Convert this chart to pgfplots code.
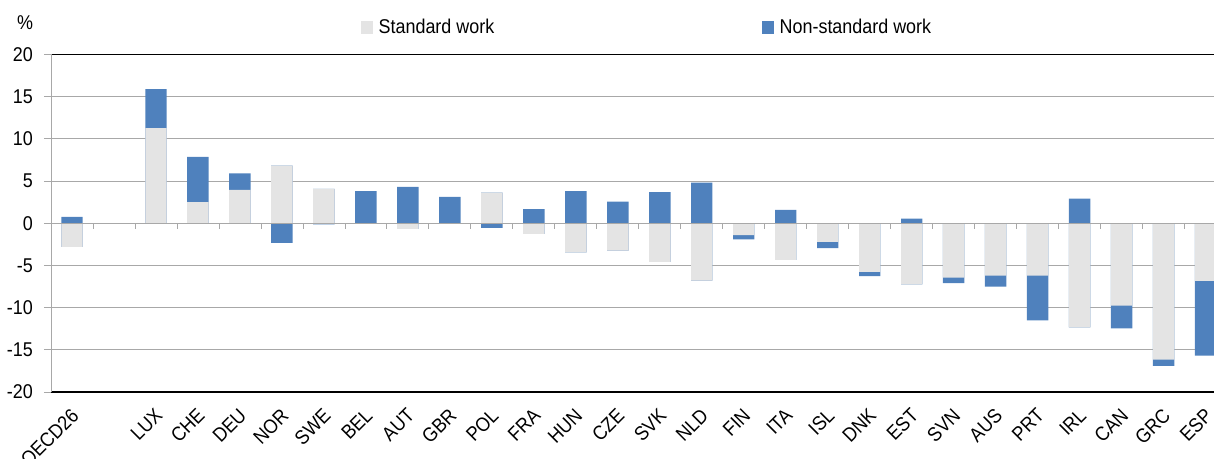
\documentclass[border=0pt]{standalone}
\usepackage{fontspec}
\setmainfont{Liberation Sans}[FakeStretch=0.9]
\usepackage{pgfplots}
\pgfplotsset{compat=1.18}
\usepackage{pgfplotstable}

\definecolor{stdgray}{HTML}{E4E4E4}
\definecolor{nsblue}{HTML}{4F81BD}
\definecolor{gridgray}{HTML}{A8A8A8}

% ends of the bars: gray/blue on the positive side, gray/blue on the negative side
\pgfplotstableread{
x  gp     bp     gn      bn
0  0      0.75   -2.8    -2.8
2  11.26  15.9   0       0
3  2.5    7.87   0       0
4  3.95   5.9    0       0
5  6.84   6.84   0       -2.33
6  4.07   4.07   0       -0.12
7  0      3.8    0       0
8  0      4.3    -0.67   -0.67
9  0      3.12   0       0
10 3.64   3.64   0       -0.55
11 0      1.66   -1.26   -1.26
12 0      3.8    -3.44   -3.44
13 0      2.57   -3.24   -3.24
14 0      3.68   -4.58   -4.58
15 0      4.82   -6.8    -6.8
16 0      0      -1.42   -1.9
17 0      1.58   -4.35   -4.35
18 0      0      -2.2    -2.96
19 0      0      -5.77   -6.28
20 0      0.55   -7.23   -7.23
21 0      0      -6.44   -7.11
22 0      0      -6.2    -7.5
23 0      0      -6.2    -11.5
24 0      2.92   -12.33  -12.33
25 0      0      -9.77   -12.45
26 0      0      -16.17  -16.9
27 0      0      -6.84   -15.7
}\bars

\begin{document}
\begin{tikzpicture}
\begin{axis}[
    scale only axis,
    width=1163bp, height=337.5bp,
    xmin=-0.5, xmax=27.2,
    ymin=-20, ymax=20,
    ytick={-20,-15,-10,-5,0,5,10,15,20},
    xtick={0,2,3,4,5,6,7,8,9,10,11,12,13,14,15,16,17,18,19,20,21,22,23,24,25,26,27},
    xticklabels={OECD26,LUX,CHE,DEU,NOR,SWE,BEL,AUT,GBR,POL,FRA,HUN,CZE,SVK,NLD,FIN,ITA,ISL,DNK,EST,SVN,AUS,PRT,IRL,CAN,GRC,ESP},
    ybar, bar width=0.51,
    axis line style={draw=none},
    ymajorgrids,
    grid style={gridgray, line width=0.8bp},
    ytick pos=left,
    tick align=outside,
    major tick length=7bp,
    xtick style={draw=none},
    ytick style={gridgray, line width=0.8bp},
    /pgf/number format/assume math mode=true,
    tick label style={font=\fontsize{20}{23}\selectfont},
    yticklabel style={inner sep=0pt, xshift=-11bp},
    xticklabel style={xshift=-2bp, yshift=-8bp, rotate=45, anchor=north east, inner sep=0pt},
    clip mode=individual,
    legend columns=2,
    legend style={draw=none, fill=none, inner sep=0pt, font=\fontsize{20}{23}\selectfont,
        at={(rel axis cs:0.2666,1)}, anchor=west, yshift=27.5bp,
        nodes={inner sep=0pt}},
    /tikz/every odd column/.append style={column sep=6bp},
    /tikz/every even column/.append style={column sep=268bp},
]
\addplot[fill=nsblue, draw=none, bar shift=0pt, forget plot] table[x=x, y=bp] {\bars};
\addplot[fill=nsblue, draw=none, bar shift=0pt, forget plot] table[x=x, y=bn] {\bars};
\addplot[fill=stdgray, draw=none, bar shift=0pt, forget plot] table[x=x, y=gp] {\bars};
\addplot[fill=stdgray, draw=none, bar shift=0pt, forget plot] table[x=x, y=gn] {\bars};

\addlegendimage{legend image code/.code={\fill[stdgray] (0bp,-6bp) rectangle (11bp,6bp);}}
\addlegendentry{Standard work}
\addlegendimage{legend image code/.code={\fill[nsblue] (0bp,-6bp) rectangle (11bp,6bp);}}
\addlegendentry{Non-standard work}

% frame, zero line and category ticks
\draw[black, line width=1.2bp] (rel axis cs:0,1) -- (rel axis cs:1,1);
\draw[black, line width=1.2bp] (rel axis cs:0,0) -- (rel axis cs:1,0);
\draw[gridgray, line width=1bp] (rel axis cs:0,0) -- (rel axis cs:0,1);
\draw[gridgray, line width=1bp] (axis cs:-0.5,0) -- (axis cs:27.2,0);
\pgfplotsinvokeforeach{0,...,26}{
  \draw[gridgray, line width=0.8bp] (axis cs:#1.5,0) -- ([yshift=-6bp]axis cs:#1.5,0);
}
\node[font=\fontsize{20}{23}\selectfont] at ([xshift=-26bp, yshift=32bp]rel axis cs:0,1) {\%};
\coordinate (O) at (rel axis cs:0,0);
\end{axis}
\pgfresetboundingbox
\path[use as bounding box] (O) ++(-51bp,-67bp) rectangle ++(1214bp,459bp);
\end{tikzpicture}
\end{document}
